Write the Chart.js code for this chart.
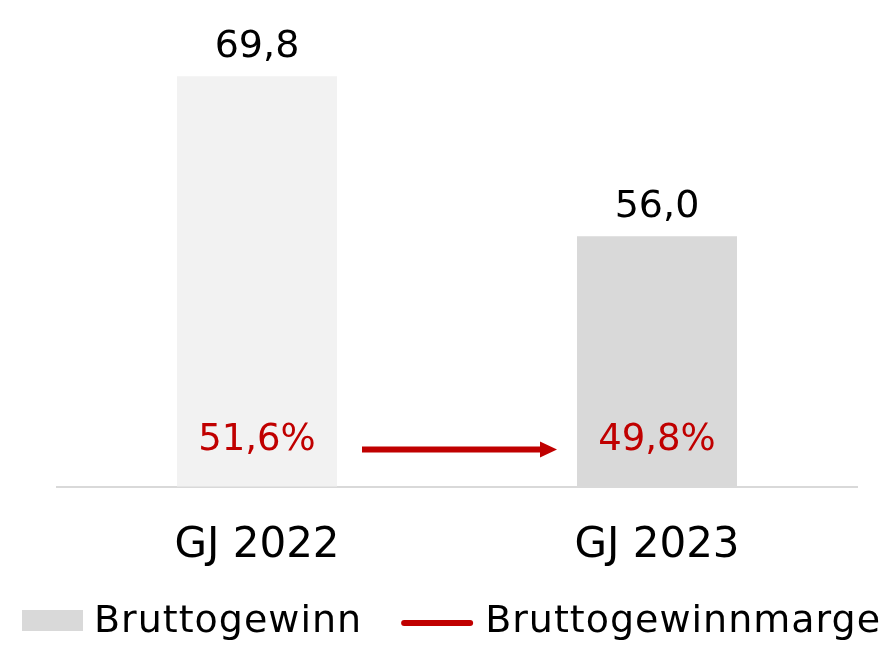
<!DOCTYPE html>
<html>
<head>
<meta charset="utf-8">
<script src="https://cdn.jsdelivr.net/npm/chart.js@4"></script>
<style>
  html, body { margin: 0; padding: 0; background: #fff; }
  #wrap { width: 892px; height: 645px; position: relative; }
</style>
</head>
<body>
<div id="wrap"><canvas id="grossChart"></canvas></div>
<script>
const years = ['GJ 2022', 'GJ 2023'];
const grossProfit = [69.8, 56.0];      // Bruttogewinn
const grossMargin = [51.6, 49.8];      // Bruttogewinnmarge in %
const barColors = ['#f2f2f2', '#d9d9d9'];
const red = '#c00000';
const font = 'DejaVu Sans';

const fmt = (v, d) => v.toFixed(d).replace('.', ',');

// value labels, margin labels and the arrow between the bars
const labelsPlugin = {
    id: 'labels',
    afterDatasetsDraw(chart) {
        const { ctx, chartArea } = chart;
        const bars = chart.getDatasetMeta(0).data;
        ctx.save();
        ctx.textAlign = 'center';
        ctx.textBaseline = 'alphabetic';
        bars.forEach((bar, i) => {
            ctx.fillStyle = '#000';
            ctx.font = `38px "${font}"`;
            ctx.fillText(fmt(grossProfit[i], 1), bar.x, bar.y - 19);
            ctx.fillStyle = red;
            ctx.font = `37px "${font}"`;
            ctx.fillText(fmt(grossMargin[i], 1) + '%', bar.x, chartArea.bottom - 37);
        });

        // arrow from first bar to second
        const b0 = bars[0], b1 = bars[1];
        const x0 = b0.x + b0.width / 2 + 25;
        const x1 = b1.x - b1.width / 2 - 20;
        const y = chartArea.bottom - 37;
        ctx.strokeStyle = red;
        ctx.fillStyle = red;
        ctx.lineWidth = 6;
        ctx.beginPath();
        ctx.moveTo(x0, y);
        ctx.lineTo(x1 - 14, y);
        ctx.stroke();
        ctx.beginPath();
        ctx.moveTo(x1, y);
        ctx.lineTo(x1 - 17, y - 8);
        ctx.lineTo(x1 - 17, y + 8);
        ctx.closePath();
        ctx.fill();
        ctx.restore();
    }
};

// legend drawn by hand: grey box for the bars, red line for the margin
const legendPlugin = {
    id: 'customLegend',
    afterDraw(chart) {
        const { ctx } = chart;
        const sets = chart.data.datasets;
        const cy = 620;
        let x = 22;
        ctx.save();
        ctx.font = `38px "${font}"`;
        ctx.letterSpacing = '1px';
        ctx.textBaseline = 'middle';
        ctx.textAlign = 'left';

        ctx.fillStyle = '#d9d9d9';
        ctx.fillRect(x, cy - 10, 61, 21);
        x += 61 + 11;
        ctx.fillStyle = '#000';
        ctx.fillText(sets[0].label, x, cy + 2);
        x += ctx.measureText(sets[0].label).width + 42;

        ctx.strokeStyle = red;
        ctx.lineWidth = 6;
        ctx.lineCap = 'round';
        ctx.beginPath();
        ctx.moveTo(x, cy + 3);
        ctx.lineTo(x + 66, cy + 3);
        ctx.stroke();
        x += 66 + 15;
        ctx.fillText(sets[1].label, x, cy + 2);
        ctx.restore();
    }
};

new Chart(document.getElementById('grossChart'), {
    data: {
        labels: years,
        datasets: [
            {
                type: 'bar',
                label: 'Bruttogewinn',
                data: grossProfit,
                backgroundColor: barColors,
                barPercentage: 0.4,
                categoryPercentage: 1,
                order: 2
            },
            {
                type: 'line',
                label: 'Bruttogewinnmarge',
                data: grossMargin,
                yAxisID: 'y1',
                borderColor: red,
                showLine: false,
                pointRadius: 0,
                order: 1
            }
        ]
    },
    options: {
        responsive: true,
        maintainAspectRatio: false,
        animation: false,
        layout: { padding: { left: 57, right: 35, top: 16, bottom: 40 } },
        plugins: {
            legend: { display: false },
            tooltip: { enabled: false }
        },
        scales: {
            x: {
                grid: { display: false, drawTicks: false },
                border: { display: true, color: '#d9d9d9', width: 2 },
                ticks: { color: '#000', padding: 34, font: { family: font, size: 42 } }
            },
            y: { display: false, min: 34.4, max: 75 },
            y1: { display: false, min: 0, max: 100 }
        }
    },
    plugins: [labelsPlugin, legendPlugin]
});
</script>
</body>
</html>
